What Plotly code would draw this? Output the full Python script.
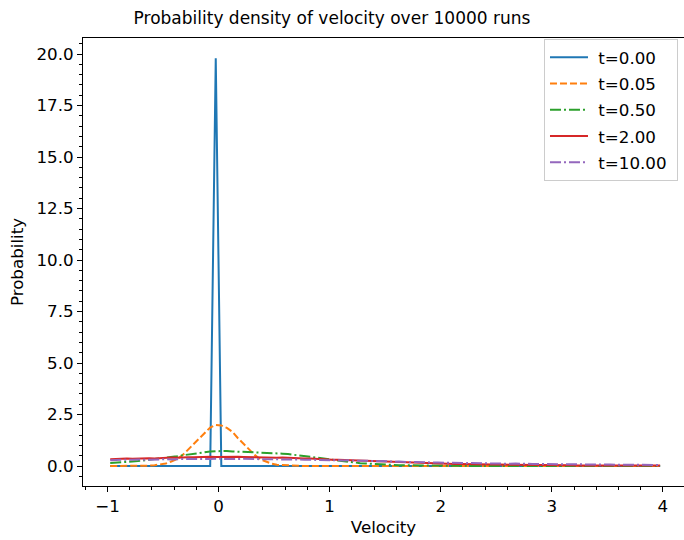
import numpy as np
import plotly.graph_objects as go

# Velocity bin centres (bin width 0.05, from -1 to 4)
velocity = np.round(np.arange(100) * 0.05 - 0.975, 3)

labels = ["t=0.00", "t=0.05", "t=0.50", "t=2.00", "t=10.00"]
colors = ["#1f77b4", "#ff7f0e", "#2ca02c", "#d62728", "#9467bd"]

p_t000 = [0]*19 + [19.8] + [0]*80

p_t005 = [0, 0, 0, 0, 0, 0, 0.01, 0.02, 0.04, 0.07,
          0.12, 0.22, 0.33, 0.52, 0.79, 1.05, 1.37, 1.64, 1.87, 1.99,
          1.97, 1.85, 1.66, 1.35, 1.07, 0.77, 0.54, 0.33, 0.21, 0.12,
          0.06, 0.04, 0.02, 0.01, 0.01, 0, 0, 0, 0, 0,
          0, 0, 0, 0, 0, 0, 0, 0, 0, 0,
          0, 0, 0, 0, 0, 0, 0, 0, 0, 0,
          0, 0, 0, 0, 0, 0, 0, 0, 0, 0,
          0, 0, 0, 0, 0, 0, 0, 0, 0, 0,
          0, 0, 0, 0, 0, 0, 0, 0, 0, 0,
          0, 0, 0, 0, 0, 0, 0, 0, 0, 0]

p_t050 = [0.15, 0.16, 0.18, 0.19, 0.22, 0.24, 0.27, 0.30, 0.33, 0.36,
          0.40, 0.44, 0.47, 0.52, 0.56, 0.60, 0.63, 0.67, 0.70, 0.72,
          0.74, 0.73, 0.71, 0.70, 0.69, 0.67, 0.68, 0.66, 0.65, 0.63,
          0.62, 0.60, 0.58, 0.55, 0.52, 0.48, 0.45, 0.42, 0.38, 0.35,
          0.31, 0.27, 0.23, 0.20, 0.17, 0.14, 0.12, 0.10, 0.08, 0.07,
          0.06, 0.05, 0.04, 0.04, 0.03, 0.03, 0.02, 0.02, 0.02, 0.01,
          0.01, 0.01, 0.01, 0.01, 0.01, 0, 0.01, 0, 0, 0,
          0, 0, 0, 0, 0, 0, 0, 0, 0, 0,
          0, 0, 0, 0, 0, 0, 0, 0, 0, 0,
          0, 0, 0, 0, 0, 0, 0, 0, 0, 0]

p_t200 = [0.33, 0.35, 0.34, 0.36, 0.35, 0.37, 0.36, 0.38, 0.37, 0.39,
          0.40, 0.41, 0.40, 0.42, 0.43, 0.42, 0.44, 0.43, 0.45, 0.44,
          0.45, 0.46, 0.44, 0.45, 0.44, 0.43, 0.44, 0.42, 0.43, 0.41,
          0.40, 0.41, 0.39, 0.38, 0.38, 0.36, 0.36, 0.34, 0.33, 0.33,
          0.31, 0.30, 0.29, 0.27, 0.26, 0.25, 0.23, 0.22, 0.21, 0.20,
          0.19, 0.18, 0.17, 0.17, 0.16, 0.15, 0.14, 0.14, 0.13, 0.12,
          0.11, 0.11, 0.10, 0.10, 0.09, 0.09, 0.08, 0.08, 0.08, 0.07,
          0.07, 0.07, 0.06, 0.06, 0.06, 0.05, 0.05, 0.05, 0.05, 0.04,
          0.04, 0.04, 0.04, 0.04, 0.03, 0.03, 0.03, 0.03, 0.03, 0.03,
          0.03, 0.03, 0.02, 0.02, 0.02, 0.02, 0.02, 0.02, 0.02, 0.02]

p_t1000 = [0.28, 0.30, 0.29, 0.31, 0.30, 0.32, 0.30, 0.31, 0.33, 0.32,
           0.33, 0.32, 0.34, 0.33, 0.35, 0.34, 0.33, 0.35, 0.34, 0.35,
           0.34, 0.35, 0.33, 0.34, 0.35, 0.33, 0.34, 0.33, 0.34, 0.33,
           0.33, 0.32, 0.33, 0.31, 0.32, 0.31, 0.30, 0.31, 0.30, 0.29,
           0.29, 0.28, 0.27, 0.28, 0.26, 0.25, 0.26, 0.24, 0.23, 0.24,
           0.22, 0.21, 0.22, 0.20, 0.19, 0.20, 0.18, 0.18, 0.17, 0.17,
           0.16, 0.16, 0.15, 0.15, 0.14, 0.15, 0.13, 0.14, 0.13, 0.12,
           0.12, 0.12, 0.11, 0.12, 0.10, 0.11, 0.10, 0.10, 0.09, 0.10,
           0.09, 0.09, 0.08, 0.09, 0.08, 0.08, 0.07, 0.08, 0.07, 0.07,
           0.07, 0.06, 0.07, 0.06, 0.06, 0.06, 0.05, 0.06, 0.05, 0.05]

series = [p_t000, p_t005, p_t050, p_t200, p_t1000]
dashes = ["solid", "7px,3px", "11px,3px,2px,3px", "solid", "11px,3px,2px,3px"]

FONT = "DejaVu Sans"
FS = 16.7
fig = go.Figure()
for i, (lab, ys) in enumerate(zip(labels, series)):
    fig.add_trace(go.Scatter(
        x=velocity, y=ys, mode="lines", name="\u00a0" + lab + "\u00a0", legendgroup=lab,
        line=dict(color=colors[i], width=2, dash=dashes[i]),
    ))

axis_common = dict(
    showgrid=False, zeroline=False, showline=True, linecolor="black", linewidth=1.1,
    ticks="outside", ticklen=5, tickwidth=1.1, tickcolor="black",
    tickfont=dict(family=FONT, size=FS, color="black"),
)

fig.update_layout(
    width=684, height=540,
    margin=dict(l=83, r=0, t=38, b=54),
    plot_bgcolor="white", paper_bgcolor="white",
    font=dict(family=FONT, size=FS, color="black"),
    title=dict(text="Probability density of velocity over 10000 runs",
               x=332/684, xanchor="center", y=1-18/540, yanchor="middle",
               font=dict(family=FONT, size=17, color="black")),
    xaxis=dict(range=[-1.22, 4.19], tickmode="linear", tick0=-1, dtick=1, mirror=True,
               minor=dict(dtick=0.2, tick0=-1, ticks="outside", ticklen=3, tickwidth=1, tickcolor="black"),
               title=dict(text="Velocity", font=dict(family=FONT, size=FS), standoff=6),
               **axis_common),
    yaxis=dict(range=[-0.97, 20.78], tickmode="linear", tick0=0, dtick=2.5, tickformat=".1f",
               mirror=False,
               minor=dict(dtick=0.5, tick0=0, ticks="outside", ticklen=3, tickwidth=1, tickcolor="black"),
               title=dict(text="Probability", font=dict(family=FONT, size=FS), standoff=8),
               **axis_common),
    legend=dict(x=0.99, xanchor="right", y=1-1/448, yanchor="top",
                bordercolor="#cccccc", borderwidth=1, bgcolor="rgba(255,255,255,0.8)",
                font=dict(family=FONT, size=FS, color="black"),
                itemwidth=38,
                traceorder="grouped", tracegroupgap=1.5),
    showlegend=True,
)

fig.write_html("out.html")
